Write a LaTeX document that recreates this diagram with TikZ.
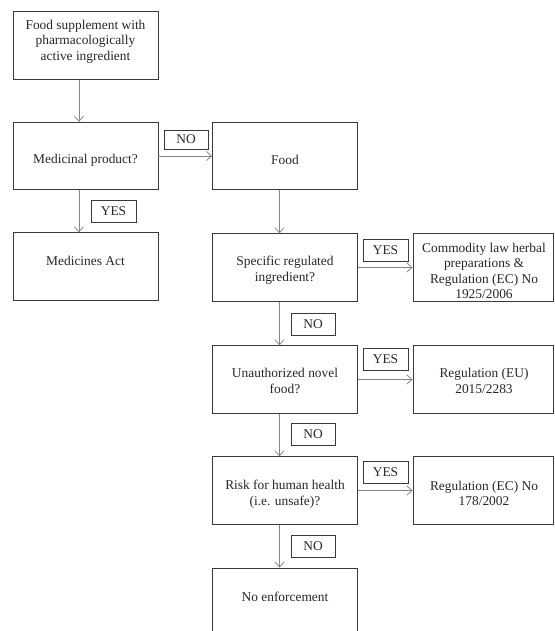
\documentclass[tikz,border=0pt]{standalone}
\usepackage{fontspec}
\setmainfont{Liberation Serif}
\usetikzlibrary{arrows.meta}
\definecolor{boxc}{HTML}{3A3A3A}
\definecolor{arrc}{HTML}{858585}
\definecolor{txtc}{HTML}{262626}
\begin{document}
\begin{tikzpicture}[x=1pt,y=-1pt,
  box/.style={draw=boxc,line width=0.8pt,inner sep=0pt,minimum height=67.5pt,minimum width=145pt},
  rbox/.style={box,minimum width=140pt},
  txt/.style={text=txtc,align=center,inner sep=0pt,font=\fontsize{13.4}{15.6}\selectfont},
  tag/.style={draw=boxc,line width=0.8pt,inner sep=0pt,minimum width=45pt,minimum height=22pt,text=txtc,font=\fontsize{13.4}{15.6}\selectfont},
  arr/.style={draw=arrc,line width=0.8pt,-{Straight Barb[length=5pt,width=9pt]}}]
\useasboundingbox (0,0) rectangle (554,631);
\clip (0,0) rectangle (554,631);
% left column
\node[box] (b1) at (85.5,45.5) {};
\node[txt] (t1) at (85.5,41.5) {Food supplement with\\pharmacologically\\active ingredient};
\node[box] (b2) at (85.5,156) {};
\node[txt] (t2) at (85.5,160) {Medicinal product?};
\node[box] (b3) at (85.5,266.5) {};
\node[txt] (t3) at (85.5,261) {Medicines Act};
% middle column
\node[box] (food) at (285,156) {};
\node[txt] (tfood) at (285,160) {Food};
\node[box] (spec) at (285,267.5) {};
\node[txt] (tspec) at (285,270.5) {Specific regulated\\ingredient?};
\node[box] (unauth) at (285,379.5) {};
\node[txt] (tunauth) at (285,381) {Unauthorized novel\\food?};
\node[box] (risk) at (285,490.5) {};
\node[txt] (trisk) at (285,494) {Risk for human health\\(i.e. unsafe)?};
\node[box,minimum height=80pt] (noenf) at (285,608) {};
\node[txt] (tnoenf) at (285,597) {No enforcement};
% right column
\node[rbox] (comm) at (483,267.5) {};
\node[txt] (tcomm) at (484,271) {Commodity law herbal\\preparations \&\\Regulation (EC) No\\1925/2006};
\node[rbox] (regeu) at (483,379.5) {};
\node[txt] (tregeu) at (484,381) {Regulation (EU)\\2015/2283};
\node[rbox] (reg178) at (483,490.5) {};
\node[txt] (treg178) at (484,493.5) {Regulation (EC) No\\178/2002};
% connectors
\draw[arr] ([xshift=-6.5pt]b1.south) -- ([xshift=-6.5pt]b2.north);
\draw[arr] ([xshift=-6.5pt]b2.south) -- ([xshift=-6.5pt]b3.north);
\draw[arr] (b2.east) -- (food.west);
\draw[arr] ([xshift=-5.5pt]food.south) -- ([xshift=-5.5pt]spec.north);
\draw[arr] ([xshift=-5.5pt]spec.south) -- ([xshift=-5.5pt]unauth.north);
\draw[arr] ([xshift=-5.5pt]unauth.south) -- ([xshift=-5.5pt]risk.north);
\draw[arr] ([xshift=-5.5pt]risk.south) -- ([xshift=-5.5pt]noenf.north);
\draw[arr] (spec.east) -- (comm.west);
\draw[arr] (unauth.east) -- (regeu.west);
\draw[arr] (risk.east) -- (reg178.west);
% tags
\node[tag,minimum height=19pt,minimum width=44pt] (no1) at (186,139.5) {NO};
\node[tag] (yes1) at (113.5,211.5) {YES};
\node[tag] (yes2) at (385.5,250) {YES};
\node[tag,minimum width=44pt] (no2) at (313,324) {NO};
\node[tag] (yes3) at (385.5,359.5) {YES};
\node[tag,minimum width=44pt] (no3) at (313,434.5) {NO};
\node[tag] (yes4) at (385.5,472.5) {YES};
\node[tag,minimum width=44pt] (no4) at (313,546) {NO};
\end{tikzpicture}
\end{document}
